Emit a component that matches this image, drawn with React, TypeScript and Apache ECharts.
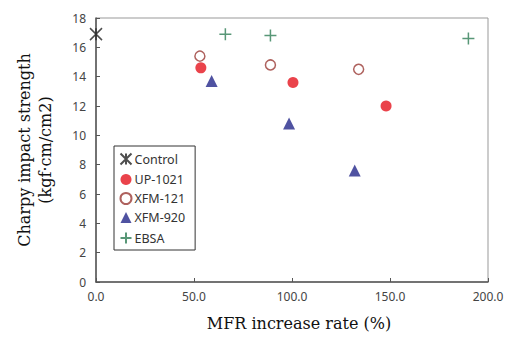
import React, { useEffect, useRef } from "react";
import * as echarts from "echarts";

const seriesNames = ["Control", "UP-1021", "XFM-121", "XFM-920", "EBSA"];
const controlData: [number, number][] = [[0, 16.9]];
const up1021Data: [number, number][] = [[53.5, 14.6], [100.5, 13.6], [148, 12.0]];
const xfm121Data: [number, number][] = [[53, 15.4], [89, 14.8], [134, 14.5]];
const xfm920Data: [number, number][] = [[59, 13.7], [98.5, 10.8], [132, 7.6]];
const ebsaData: [number, number][] = [[66, 16.9], [89, 16.8], [190, 16.6]];

const STAR = "path://M0,0L10,10M10,0L0,10M5,0L5,10";
const PLUS = "path://M5,0L5,10M0,5L10,5";

export default function App() {
  const ref = useRef<HTMLDivElement>(null);
  useEffect(() => {
    if (!ref.current) return;
    const chart = echarts.init(ref.current, undefined, { renderer: "svg" });
    chart.setOption({
      animation: false,
      backgroundColor: "#fff",
      grid: { left: 96, right: 24, top: 18, bottom: 61, show: true, borderColor: "#999", borderWidth: 1 },
      legend: {
        orient: "vertical",
        left: 114,
        top: 146,
        data: seriesNames,
        itemWidth: 11,
        itemHeight: 11,
        itemGap: 6,
        padding: [5, 10, 4, 4],
        borderColor: "#333",
        borderWidth: 1,
        backgroundColor: "#fff",
        textStyle: { fontFamily: "Noto Sans, sans-serif", fontSize: 12.5, color: "#333", padding: [0, 0, 0, -2] },
      },
      xAxis: {
        type: "value",
        min: 0,
        max: 200,
        interval: 50,
        name: "MFR increase rate (%)",
        nameLocation: "middle",
        nameGap: 33,
        nameTextStyle: { fontFamily: "DejaVu Serif, serif", fontSize: 16, color: "#111", padding: [0, 0, 0, 14] },
        axisLine: { lineStyle: { color: "#555", width: 1.5 } },
        axisTick: { inside: true, length: 4, lineStyle: { color: "#555" } },
        axisLabel: { formatter: (v: number) => v.toFixed(1), fontFamily: "Noto Sans, sans-serif", fontSize: 12, color: "#444", margin: 8 },
        splitLine: { show: false },
      },
      yAxis: {
        type: "value",
        min: 0,
        max: 18,
        interval: 2,
        name: "Charpy impact strength\n(kgf\u00b7cm/cm2)",
        nameLocation: "middle",
        nameGap: 40,
        nameRotate: 90,
        nameTextStyle: { fontFamily: "DejaVu Serif, serif", fontSize: 16, color: "#111", lineHeight: 21, align: "center" },
        axisLine: { show: true, lineStyle: { color: "#555", width: 1.5 } },
        axisTick: { show: true, inside: true, length: 4, lineStyle: { color: "#555" } },
        axisLabel: { fontFamily: "Noto Sans, sans-serif", fontSize: 12, color: "#444", margin: 10 },
        splitLine: { show: false },
      },
      series: [
        {
          name: "Control", type: "scatter", data: controlData, symbol: STAR, symbolSize: 12,
          itemStyle: { color: "none", borderColor: "#222", borderWidth: 1.5 },
        },
        {
          name: "UP-1021", type: "scatter", data: up1021Data, symbol: "circle", symbolSize: 11,
          itemStyle: { color: "#e5141e" },
        },
        {
          name: "XFM-121", type: "scatter", data: xfm121Data, symbol: "circle", symbolSize: 10,
          itemStyle: { color: "#fff", borderColor: "#9a3a35", borderWidth: 1.5 },
        },
        {
          name: "XFM-920", type: "scatter", data: xfm920Data, symbol: "triangle", symbolSize: 12,
          itemStyle: { color: "#23278a" },
        },
        {
          name: "EBSA", type: "scatter", data: ebsaData, symbol: PLUS, symbolSize: 12,
          itemStyle: { color: "none", borderColor: "#2e7d55", borderWidth: 1.5 },
        },
      ],
    });
    return () => chart.dispose();
  }, []);
  return <div ref={ref} style={{ width: 512, height: 343, position: "absolute", left: 0, top: 0 }} />;
}
